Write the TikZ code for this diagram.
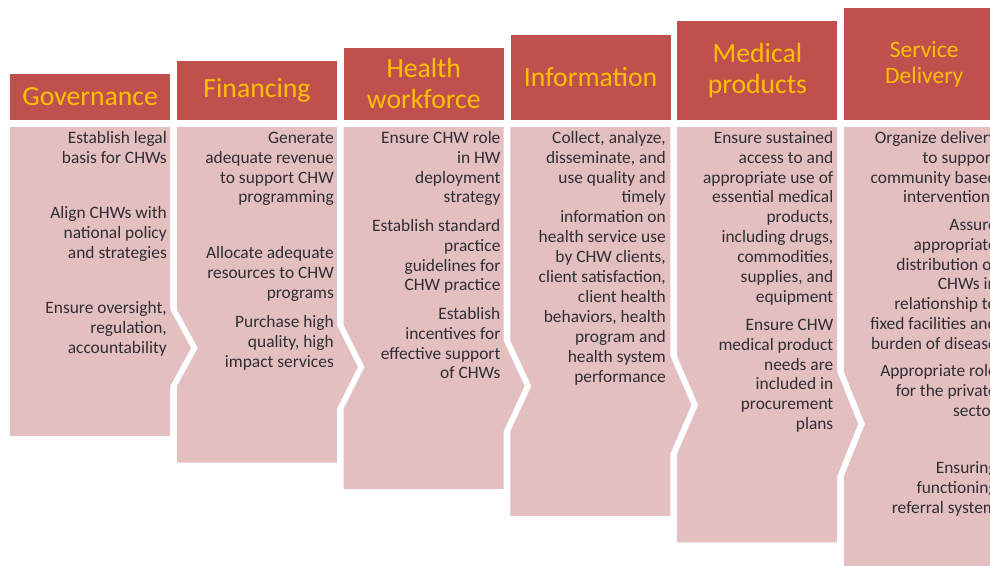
\documentclass[tikz,border=0pt]{standalone}
\usepackage{fontspec}
\setmainfont{Carlito}
\definecolor{hdrred}{HTML}{C0504D}
\definecolor{hdrgold}{HTML}{FFC000}
\definecolor{bodypink}{HTML}{E4BFC0}
\definecolor{bodytext}{HTML}{2E2E34}
\tikzset{
  hdr/.style={fill=hdrred, text=hdrgold, anchor=north west, minimum width=160pt,
    inner sep=0pt, align=center, font=\fontsize{27.7}{31}\selectfont},
  hdrsmall/.style={hdr, font=\fontsize{23.5}{26}\selectfont},
  bodyshape/.style={fill=bodypink},
  txt/.style={anchor=north east, inner sep=0pt, align=right, text=bodytext,
    yshift=13.93pt, font=\fontsize{17.4}{19.9}\selectfont},
}
\begin{document}
\begin{tikzpicture}[x=1pt, y=-1pt]
\useasboundingbox (0,0) rectangle (990,565);
\clip (0,0) rectangle (990,565);

% ---- bodies ----
\path[bodyshape] (10,127) -- (170,127) -- (170,309.3) -- (191,347.9) -- (170,386.5)
  -- (170,436) -- (10,436) -- cycle;
\path[bodyshape] (176.8,127) -- (336.8,127) -- (336.8,325) -- (357.8,367) -- (336.8,409)
  -- (336.8,462.6) -- (176.8,462.6) -- (176.8,386.5) -- (197.8,347.9) -- (176.8,309.3) -- cycle;
\path[bodyshape] (343.6,127) -- (503.6,127) -- (503.6,340.7) -- (524.6,386) -- (503.6,431.3)
  -- (503.6,489.2) -- (343.6,489.2) -- (343.6,409) -- (364.6,367) -- (343.6,325) -- cycle;
\path[bodyshape] (510.4,127) -- (670.4,127) -- (670.4,356.4) -- (691.4,405) -- (670.4,453.6)
  -- (670.4,515.8) -- (510.4,515.8) -- (510.4,431.3) -- (531.4,386) -- (510.4,340.7) -- cycle;
\path[bodyshape] (677.2,127) -- (837.2,127) -- (837.2,372.1) -- (858.2,424) -- (837.2,475.9)
  -- (837.2,542.4) -- (677.2,542.4) -- (677.2,453.6) -- (698.2,405) -- (677.2,356.4) -- cycle;
\path[bodyshape] (844,127) -- (1004,127) -- (1004,580) -- (844,580) -- (844,475.9)
  -- (865,424) -- (844,372.1) -- cycle;

% ---- headers ----
\node[hdr, minimum height=45.5pt] (h1) at (10,74) {Governance};
\node[hdr, minimum height=58.7pt] (h2) at (176.8,60.8) {Financing};
\node[hdr, minimum height=71.9pt] (h3) at (343.6,47.6) {Health\\workforce};
\node[hdr, minimum height=85.1pt] (h4) at (510.4,34.4) {Information};
\node[hdr, minimum height=98.3pt] (h5) at (677.2,21.2) {Medical\\products};
\node[hdrsmall, minimum height=111.5pt] (h6) at (844,8) {Service\\Delivery};

% ---- texts ----
\node[txt] (g1) at (167,143) {\strut Establish legal\\basis for CHWs};
\node[txt] (g2) at (167,218) {\strut Align CHWs with\\national policy\\and strategies};
\node[txt] (g3) at (167,313) {\strut Ensure oversight,\\regulation,\\accountability};

\node[txt] (f1) at (334,143) {\strut Generate\\adequate revenue\\to support CHW\\programming};
\node[txt] (f2) at (334,258) {\strut Allocate adequate\\resources to CHW\\programs};
\node[txt] (f3) at (334,327) {\strut Purchase high\\quality, high\\impact services};

\node[txt] (w1) at (500.6,143) {\strut Ensure CHW role\\in HW\\deployment\\strategy};
\node[txt] (w2) at (500.6,231) {\strut Establish standard\\practice\\guidelines for\\CHW practice};
\node[txt] (w3) at (500.6,319) {\strut Establish\\incentives for\\effective support\\of CHWs};

\node[txt] (i1) at (666,143) {\strut Collect, analyze,\\disseminate, and\\use quality and\\timely\\information on\\health service use\\by CHW clients,\\client satisfaction,\\client health\\behaviors, health\\program and\\health system\\performance};

\node[txt] (m1) at (833.5,143) {\strut Ensure sustained\\access to and\\appropriate use of\\essential medical\\products,\\including drugs,\\commodities,\\supplies, and\\equipment};
\node[txt] (m2) at (833.5,330) {\strut Ensure CHW\\medical product\\needs are\\included in\\procurement\\plans};

\node[txt] (s1) at (997,143) {\strut Organize delivery\\to support\\community based\\interventions};
\node[txt] (s2) at (997,230) {\strut Assure\\appropriate\\distribution of\\CHWs in\\relationship to\\fixed facilities and\\burden of disease};
\node[txt] (s3) at (997,376) {\strut Appropriate role\\for the private\\sector};
\node[txt] (s4) at (997,473) {\strut Ensuring\\functioning\\referral system};
\end{tikzpicture}
\end{document}
